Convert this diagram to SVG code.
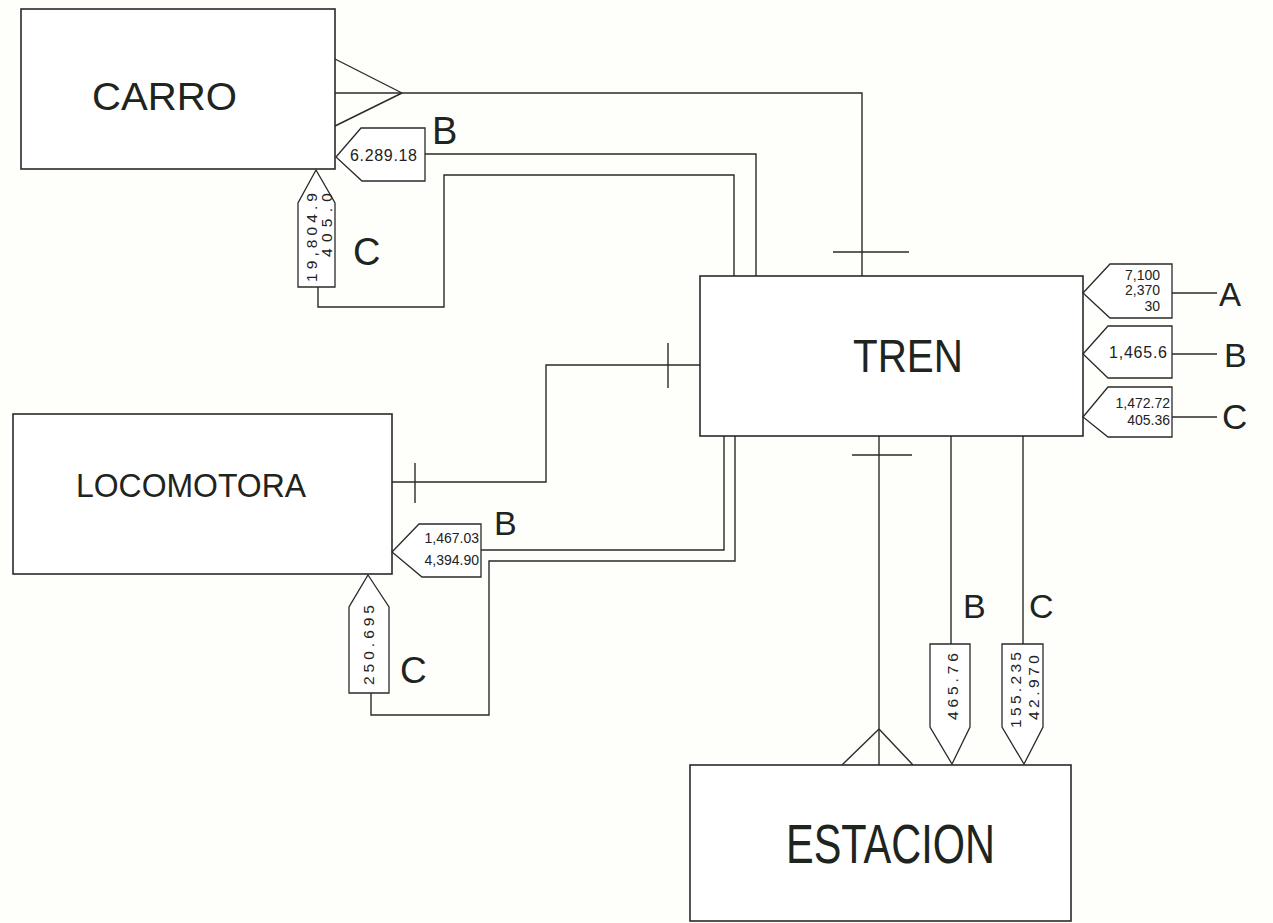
<svg xmlns="http://www.w3.org/2000/svg" width="1273" height="923" viewBox="0 0 1273 923">
<style>
.box{fill:#ffffff;stroke:#2a2a2a;stroke-width:1.6}
.ln{fill:none;stroke:#2a2a2a;stroke-width:1.4}
.tag{fill:#ffffff;stroke:#2a2a2a;stroke-width:1.3}
.nm{font-family:"Liberation Sans",Arial,sans-serif;fill:#1e241e}
.big{font-family:"Liberation Sans",Arial,sans-serif;fill:#1e241e}
.sm{font-family:"Liberation Sans",Arial,sans-serif;font-size:14px;fill:#222}
.rt{font-family:"Liberation Sans",Arial,sans-serif;font-size:15.5px;fill:#222}
</style>
<rect x="0" y="0" width="1273" height="923" fill="#fefefb"/>

<g id="connectors">
  <polyline class="ln" points="402,93 862,93 862,276"/>
  <line class="ln" x1="335" y1="59" x2="402" y2="93"/>
  <line class="ln" x1="335" y1="93" x2="402" y2="93"/>
  <line class="ln" x1="335" y1="126" x2="402" y2="93"/>
  <line class="ln" x1="833" y1="252" x2="909" y2="252"/>
  <polyline class="ln" points="425,154 756,154 756,276"/>
  <polyline class="ln" points="318,287 318,307 444,307 444,175 734,175 734,276"/>
  <polyline class="ln" points="392,482 546,482 546,365 700,365"/>
  <line class="ln" x1="415" y1="463" x2="415" y2="503"/>
  <line class="ln" x1="668" y1="343" x2="668" y2="388"/>
  <polyline class="ln" points="481,550 724,550 724,436"/>
  <polyline class="ln" points="371,693 371,715 489,715 489,561 735,561 735,436"/>
  <line class="ln" x1="879" y1="436" x2="879" y2="765"/>
  <line class="ln" x1="852" y1="455" x2="912" y2="455"/>
  <line class="ln" x1="842" y1="765" x2="879" y2="729"/>
  <line class="ln" x1="913" y1="765" x2="879" y2="729"/>
  <line class="ln" x1="951" y1="436" x2="951" y2="644"/>
  <line class="ln" x1="1023" y1="436" x2="1023" y2="644"/>
  <line class="ln" x1="1172" y1="293" x2="1217" y2="293"/>
  <line class="ln" x1="1172" y1="354" x2="1217" y2="354"/>
  <line class="ln" x1="1160" y1="417" x2="1217" y2="417"/>
</g>

<g id="carro">
  <rect class="box" x="21" y="9" width="314" height="160"/>
  <text class="nm" x="92" y="110" font-size="39" textLength="145" lengthAdjust="spacingAndGlyphs">CARRO</text>
</g>

<g id="carro-b">
  <polygon class="tag" points="336,157 361,128 425,128 425,181 362,181"/>
  <text class="sm" x="350" y="161" font-size="16" textLength="67" lengthAdjust="spacing" style="font-size:16px">6.289.18</text>
  <text class="big" x="432" y="144" font-size="38">B</text>
</g>

<g id="carro-c">
  <polygon class="tag" points="316,170 335,203 335,287 298,287 298,203"/>
  <text class="rt" transform="translate(317,282) rotate(-90)" textLength="89" lengthAdjust="spacing">19,804.9</text>
  <text class="rt" transform="translate(332,257) rotate(-90)" textLength="64" lengthAdjust="spacing">405.0</text>
  <text class="big" x="353" y="265" font-size="38">C</text>
</g>

<g id="tren">
  <rect class="box" x="700" y="276" width="383" height="160"/>
  <text class="nm" x="853" y="372" font-size="46" textLength="110" lengthAdjust="spacingAndGlyphs">TREN</text>
</g>

<g id="tren-a">
  <polygon class="tag" points="1083,293 1110,264 1172,264 1172,318 1110,318"/>
  <text class="sm" x="1160" y="280" text-anchor="end">7,100</text>
  <text class="sm" x="1160" y="295" text-anchor="end">2,370</text>
  <text class="sm" x="1160" y="311" text-anchor="end">30</text>
  <text class="big" x="1219" y="306" font-size="33">A</text>
</g>

<g id="tren-b">
  <polygon class="tag" points="1083,354 1108,326 1172,326 1172,378 1108,378"/>
  <text class="sm" x="1109" y="358" textLength="58" lengthAdjust="spacing" style="font-size:16px">1,465.6</text>
  <text class="big" x="1224" y="367" font-size="34">B</text>
</g>

<g id="tren-c">
  <polygon class="tag" points="1083,417 1108,387 1172,387 1172,437 1108,437"/>
  <text class="sm" x="1170" y="408" text-anchor="end">1,472.72</text>
  <text class="sm" x="1170" y="425" text-anchor="end">405.36</text>
  <text class="big" x="1222" y="429" font-size="35">C</text>
</g>

<g id="locomotora">
  <rect class="box" x="13" y="414" width="379" height="160"/>
  <text class="nm" x="76" y="497" font-size="33" textLength="230" lengthAdjust="spacingAndGlyphs">LOCOMOTORA</text>
</g>

<g id="locomotora-b">
  <polygon class="tag" points="392,552 419,524 481,524 481,577 422,577"/>
  <text class="sm" x="479" y="543" text-anchor="end">1,467.03</text>
  <text class="sm" x="479" y="565" text-anchor="end">4,394.90</text>
  <text class="big" x="494" y="535" font-size="34">B</text>
</g>

<g id="locomotora-c">
  <polygon class="tag" points="368,575 389,607 389,693 349,693 349,607"/>
  <text class="rt" transform="translate(374,685) rotate(-90)" textLength="80" lengthAdjust="spacing">250.695</text>
  <text class="big" x="400" y="683" font-size="37">C</text>
</g>

<g id="estacion">
  <rect class="box" x="690" y="765" width="381" height="156"/>
  <text class="nm" x="786" y="863" font-size="55" textLength="209" lengthAdjust="spacingAndGlyphs">ESTACION</text>
</g>

<g id="estacion-b">
  <polygon class="tag" points="930,644 970,644 970,727 952,764 930,727"/>
  <text class="rt" transform="translate(958,720) rotate(-90)" textLength="67" lengthAdjust="spacing">465.76</text>
  <text class="big" x="963" y="618" font-size="34">B</text>
</g>

<g id="estacion-c">
  <polygon class="tag" points="1002,644 1043,644 1043,727 1024,764 1002,727"/>
  <text class="rt" transform="translate(1021,728) rotate(-90)" textLength="76" lengthAdjust="spacing">155.235</text>
  <text class="rt" transform="translate(1039,720) rotate(-90)" textLength="65" lengthAdjust="spacing">42.970</text>
  <text class="big" x="1029" y="618" font-size="34">C</text>
</g>
</svg>
